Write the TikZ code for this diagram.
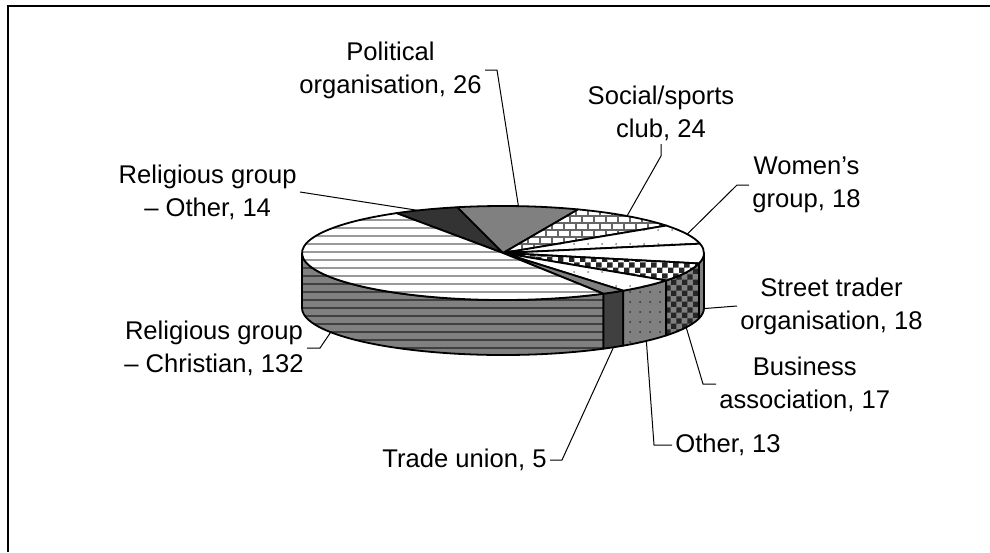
\documentclass[tikz,border=0pt]{standalone}
\usepackage{fontspec}
\setmainfont{Liberation Sans}
\usetikzlibrary{patterns,patterns.meta}

\pgfdeclarepatternformonly{hstripes}{\pgfqpoint{-1pt}{0pt}}{\pgfqpoint{121pt}{4pt}}{\pgfqpoint{120pt}{4pt}}{%
  \pgfsetlinewidth{1.1pt}%
  \pgfpathmoveto{\pgfqpoint{-1pt}{2pt}}\pgfpathlineto{\pgfqpoint{121pt}{2pt}}%
  \pgfusepath{stroke}}
\pgfdeclarepatternformonly{brickwall}{\pgfqpoint{-0.5pt}{-0.5pt}}{\pgfqpoint{6.5pt}{7.5pt}}{\pgfqpoint{6pt}{7pt}}{%
  \pgfsetlinewidth{0.9pt}%
  \pgfpathmoveto{\pgfqpoint{-0.5pt}{0pt}}\pgfpathlineto{\pgfqpoint{6.5pt}{0pt}}%
  \pgfpathmoveto{\pgfqpoint{-0.5pt}{3.5pt}}\pgfpathlineto{\pgfqpoint{6.5pt}{3.5pt}}%
  \pgfpathmoveto{\pgfqpoint{0pt}{0pt}}\pgfpathlineto{\pgfqpoint{0pt}{3.5pt}}%
  \pgfpathmoveto{\pgfqpoint{3pt}{3.5pt}}\pgfpathlineto{\pgfqpoint{3pt}{7pt}}%
  \pgfusepath{stroke}}
\pgfdeclarepatternformonly{checker}{\pgfpointorigin}{\pgfqpoint{5.6pt}{5.6pt}}{\pgfqpoint{5.6pt}{5.6pt}}{%
  \pgfpathrectangle{\pgfpointorigin}{\pgfqpoint{2.85pt}{2.85pt}}%
  \pgfpathrectangle{\pgfqpoint{2.8pt}{2.8pt}}{\pgfqpoint{2.85pt}{2.85pt}}%
  \pgfusepath{fill}}

\newcommand{\pieA}{201}
\newcommand{\pieB}{47}
\newcommand{\pieD}{55}
\newcommand{\topslice}[3]{%
  \path[#1] (0,0) -- ({\pieA*cos(#2)},{\pieB*sin(#2)})
    arc[start angle=#2,end angle=#3,x radius=\pieA,y radius=\pieB] -- cycle;}
\newcommand{\sideslice}[3]{%
  \path[#1] ({\pieA*cos(#2)},{\pieB*sin(#2)})
    arc[start angle=#2,end angle=#3,x radius=\pieA,y radius=\pieB]
    -- ++(0,-\pieD)
    arc[start angle=#3,end angle=#2,x radius=\pieA,y radius=\pieB] -- cycle;}

\tikzset{
  slice/.style={draw=black,line width=0.9pt,line join=round},
  christop/.style={slice,preaction={fill=white},pattern=hstripes,pattern color=black!40},
  chrisside/.style={slice,preaction={fill=black!50},pattern=hstripes,pattern color=black!75},
  relother/.style={slice,fill=black!80},
  polit/.style={slice,fill=black!50},
  social/.style={slice,preaction={fill=white},pattern=brickwall,pattern color=black!60},
  women/.style={slice,preaction={fill=white},pattern={Dots[distance=7pt,radius=0.5pt]},pattern color=black!50},
  streettop/.style={slice,fill=white},
  streetside/.style={slice,fill=black!50},
  busitop/.style={slice,preaction={fill=white},pattern=checker,pattern color=black!85},
  busiside/.style={slice,preaction={fill=black!50},pattern=checker,pattern color=black!85},
  othertop/.style={slice,preaction={fill=white},pattern={Dots[distance=7pt,radius=0.5pt]},pattern color=black!50},
  otherside/.style={slice,preaction={fill=black!50},pattern={Dots[distance=5pt,radius=0.5pt]},pattern color=black!80},
  tradetop/.style={slice,fill=black!50},
  tradeside/.style={slice,fill=black!75}
}

\begin{document}
\begin{tikzpicture}[x=0.5pt,y=-0.5pt,
  lbl/.style={align=center,inner sep=1.5pt,font=\fontsize{12.8}{16.5}\selectfont},
  leader/.style={line width=0.5pt}]
\useasboundingbox (0,0) rectangle (990,552);
\draw[line width=1pt] (8,552) -- (8,6) -- (990,6);

\begin{scope}[shift={(503,253)},y=0.5pt]
  \sideslice{chrisside}{-180}{-60.02}
  \sideslice{tradeside}{-60.02}{-53.28}
  \sideslice{otherside}{-53.28}{-35.75}
  \sideslice{busiside}{-35.75}{-12.83}
  \sideslice{streetside}{-12.83}{0}
  \topslice{relother}{122}{103.12}
  \topslice{polit}{103.12}{68.07}
  \topslice{social}{68.07}{35.71}
  \topslice{women}{35.71}{11.44}
  \topslice{streettop}{11.44}{-12.83}
  \topslice{busitop}{-12.83}{-35.75}
  \topslice{othertop}{-35.75}{-53.28}
  \topslice{tradetop}{-53.28}{-60.02}
  \topslice{christop}{-60.02}{-238}
  \coordinate (pRO)  at ({\pieA*cos(115)},{\pieB*sin(115)});
  \coordinate (pPol) at ({\pieA*cos(85.6)},{\pieB*sin(85.6)});
  \coordinate (pSoc) at ({\pieA*cos(51.9)},{\pieB*sin(51.9)});
  \coordinate (pWom) at ({\pieA*cos(23.6)},{\pieB*sin(23.6)});
  \coordinate (pStr) at ({\pieA*cos(-0.7)},{\pieB*sin(-0.7)-\pieD});
  \coordinate (pBus) at ({\pieA*cos(-24.3)},{\pieB*sin(-24.3)-\pieD});
  \coordinate (pOth) at ({\pieA*cos(-44.5)},{\pieB*sin(-44.5)-\pieD});
  \coordinate (pTra) at ({\pieA*cos(-56.65)},{\pieB*sin(-56.65)-\pieD});
  \coordinate (pChr) at ({\pieA*cos(-149)},{\pieB*sin(-149)-\pieD});
\end{scope}

\node[lbl,anchor=east]  (lblPol) at (485,70)  {Political\\organisation, 26};
\node[lbl,anchor=south] (lblSoc) at (661,144) {Social/sports\\club, 24};
\node[lbl,anchor=west]  (lblWom) at (749,185) {Women’s\\group, 18};
\node[lbl,anchor=west]  (lblStr) at (737,306) {Street trader\\organisation, 18};
\node[lbl,anchor=west]  (lblBus) at (716,384) {Business\\association, 17};
\node[lbl,anchor=west]  (lblOth) at (672,445) {Other, 13};
\node[lbl,anchor=east]  (lblTra) at (550,460) {Trade union, 5};
\node[lbl,anchor=east]  (lblChr) at (307,348) {Religious group\\– Christian, 132};
\node[lbl,anchor=east]  (lblRO)  at (300,192) {Religious group\\– Other, 14};

\draw[leader] (lblPol.east) -- ++(12,0) -- (pPol);
\draw[leader] (lblSoc.south) -- ++(0,12) -- (pSoc);
\draw[leader] (lblWom.west) -- ++(-12,0) -- (pWom);
\draw[leader] (lblStr.west) -- (pStr);
\draw[leader] (lblBus.west) -- ++(-13,0) -- (pBus);
\draw[leader] (lblOth.west) -- ++(-18,0) -- (pOth);
\draw[leader] (lblTra.east) -- ++(12,0) -- (pTra);
\draw[leader] (lblChr.east) -- ++(13,0) -- (pChr);
\draw[leader] (lblRO.east) -- (pRO);
\end{tikzpicture}
\end{document}
